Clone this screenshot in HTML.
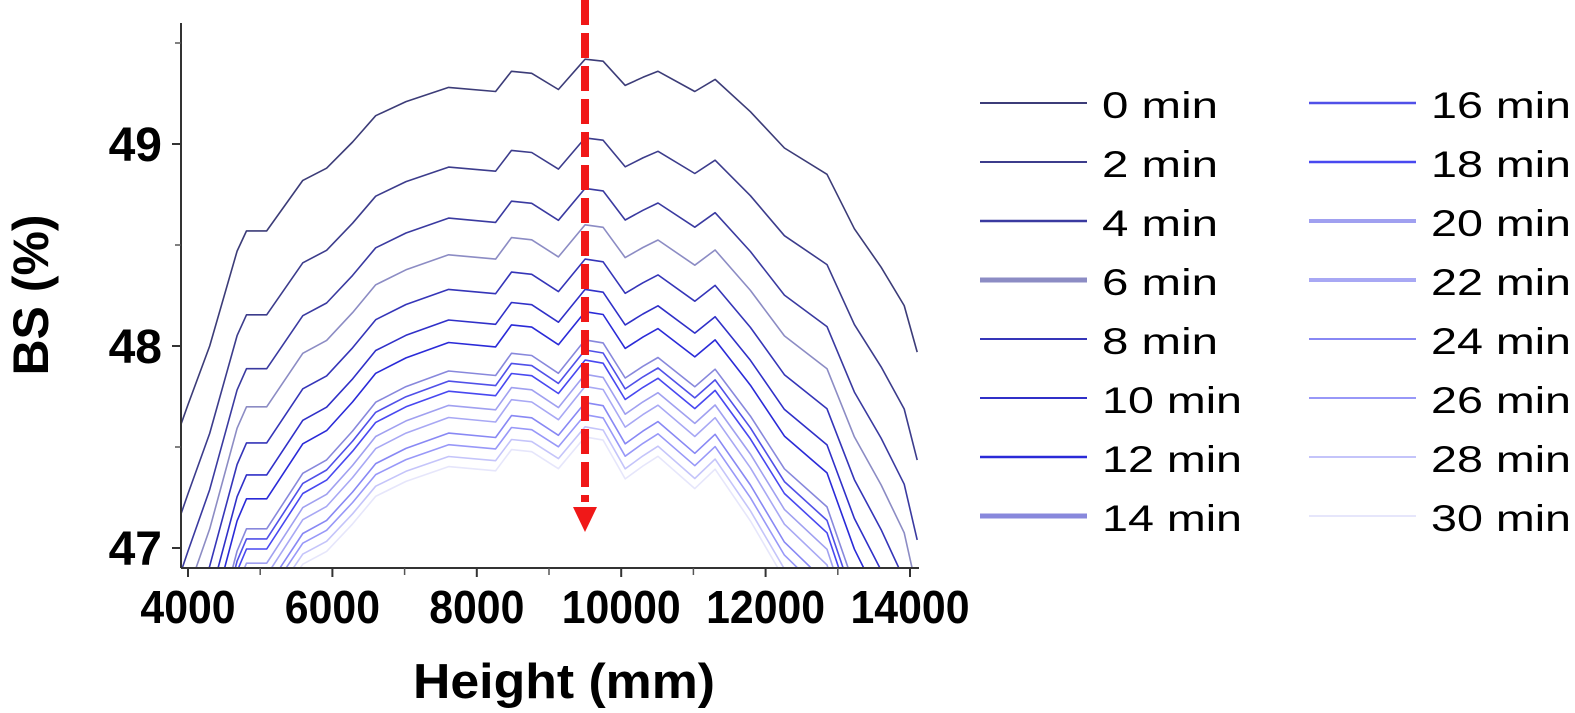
<!DOCTYPE html>
<html><head><meta charset="utf-8"><style>
html,body{margin:0;background:#fff;width:1575px;height:713px;overflow:hidden}
svg{display:block}
text{font-family:"Liberation Sans",Arial,sans-serif}
</style></head><body>
<svg id="chart" width="1575" height="713">
<defs><clipPath id="plotclip"><rect x="182" y="20" width="738" height="547"/></clipPath></defs>
<g id="axes"></g>
<g id="series" clip-path="url(#plotclip)"></g>
<g id="arrow"></g>
<g id="legend"></g>
<text x="413" y="698" font-size="49" font-weight="bold" textLength="302" lengthAdjust="spacingAndGlyphs">Height (mm)</text>
<text transform="translate(48,295) rotate(-90)" font-size="50" font-weight="bold" text-anchor="middle">BS (%)</text>
</svg>
<script>
// data
const seriesLabels=["0 min","2 min","4 min","6 min","8 min","10 min","12 min","14 min","16 min","18 min","20 min","22 min","24 min","26 min","28 min","30 min"];
const peakValues=[49.42,49.03,48.78,48.60,48.43,48.28,48.17,48.03,47.98,47.93,47.86,47.80,47.72,47.66,47.60,47.55];
const steepLeft=[1.0,1.03,1.05,1.06,1.07,1.08,1.09,1.1,1.1,1.1,1.1,1.1,1.08,1.06,1.05,1.05];
const steepRight=[1.0,1.1,1.2,1.25,1.3,1.35,1.4,1.45,1.48,1.5,1.52,1.55,1.57,1.58,1.6,1.6];
const heights=[3900,4000,4300,4680,4810,5090,5590,5920,6280,6600,7020,7610,8260,8480,8760,9130,9500,9750,10055,10300,10510,11020,11300,11790,12260,12850,13230,13600,13920,14100];
const topCurve=[47.62,47.72,48.01,48.48,48.58,48.58,48.83,48.89,49.02,49.15,49.22,49.29,49.27,49.37,49.36,49.28,49.43,49.42,49.30,49.34,49.37,49.27,49.33,49.17,48.99,48.86,48.59,48.40,48.21,47.98];
const xTicks=[4000,6000,8000,10000,12000,14000];
const xMinor=[5000,7000,9000,11000,13000];
const yTicks=[47,48,49];
const yMinor=[47.5,48.5,49.5];
const colors=["#3c3c78","#3c3c8c","#3a3aa0","#8c8cc4","#3535b8","#3030c8","#2a2ad8","#8888dc","#5050e8","#4848f0","#a0a0f0","#a8a8f4","#8888f4","#9898f8","#c4c4fa","#e6e6fb"];
const legendWidths=[2,2,2.5,5,2,2,2.5,5,2.5,2.5,4,4,2,2,2,2];

const NS="http://www.w3.org/2000/svg";
const X=v=>188+(v-4000)*722/10000;
const Y=v=>144+(49-v)*202;
function mk(tag,attrs,parent){const e=document.createElementNS(NS,tag);for(const k in attrs)e.setAttribute(k,attrs[k]);parent.appendChild(e);return e;}
const axes=document.getElementById('axes');
let a=mk('line',{x1:181,y1:23,x2:181,y2:568,stroke:'#333','stroke-width':2},axes);


a=mk('line',{x1:181,y1:568,x2:919,y2:568,stroke:'#333','stroke-width':2},axes);


xTicks.forEach(v=>{
  const t=mk('line',{x1:X(v),y1:568,x2:X(v),y2:577,stroke:'#333','stroke-width':2},axes);
  
  
  const s=String(v);
  const l=mk('text',{x:X(v),y:623,'font-size':46,'font-weight':'bold','text-anchor':'middle',textLength:s.length*23.8,lengthAdjust:'spacingAndGlyphs'},axes);
  l.textContent=s;
  
  
});
xMinor.forEach(v=>{
  const t=mk('line',{x1:X(v),y1:568,x2:X(v),y2:575,stroke:'#555','stroke-width':1.5},axes);
  
  
});
yTicks.forEach(v=>{
  const t=mk('line',{x1:172,y1:Y(v),x2:181,y2:Y(v),stroke:'#333','stroke-width':2},axes);
  
  
  const l=mk('text',{x:162,y:Y(v)+17,'font-size':48,'font-weight':'bold','text-anchor':'end'},axes);
  l.textContent=v;
  
  
});
yMinor.forEach(v=>{
  const t=mk('line',{x1:175,y1:Y(v),x2:181,y2:Y(v),stroke:'#555','stroke-width':1.5},axes);
  
  
});
const sg=document.getElementById('series');
const topPeak=topCurve[16];
for(let s=seriesLabels.length-1;s>=0;s--){
  const pts=heights.map((h,i)=>{
    const prof=topCurve[i]-topPeak;
    const k=h<9500?steepLeft[s]:steepRight[s];
    return X(h).toFixed(1)+','+Y(peakValues[s]+prof*k).toFixed(1);
  });
  const p=mk('polyline',{points:pts.join(' '),fill:'none',stroke:colors[s],'stroke-width':1.6,'stroke-linejoin':'round'},sg);
  
  
}
const ar=document.getElementById('arrow');
for(let y=0;y<500;y+=33){
  const d=mk('rect',{x:581,y:y,width:8,height:Math.min(25,502-y),fill:'#f01818'},ar);
  
  
}
const head=mk('polygon',{points:'573,507 597,507 585,532',fill:'#f01818'},ar);


const lg=document.getElementById('legend');
seriesLabels.forEach((lab,i)=>{
  const col=Math.floor(i/8),row=i%8;
  const x0=col?1309:980, y0=103+row*59;
  const g=mk('g',{},lg);
  
  
  mk('line',{x1:x0,y1:y0,x2:x0+107,y2:y0,stroke:colors[i],'stroke-width':legendWidths[i]},g);
  const t=mk('text',{x:x0+122,y:y0+15,'font-size':37,textLength:lab.length===5?116:140,lengthAdjust:'spacingAndGlyphs'},g);
  t.textContent=lab;
});
</script>
</body></html>
